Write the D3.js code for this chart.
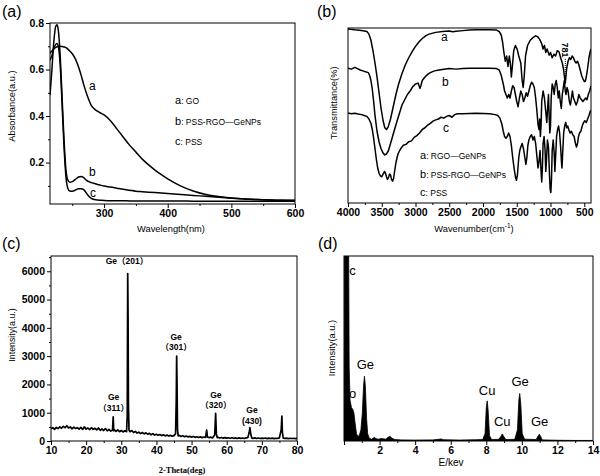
<!DOCTYPE html>
<html>
<head>
<meta charset="utf-8">
<script src="https://cdn.jsdelivr.net/npm/d3@7"></script>
<style>
  body { margin: 0; background: #fff; }
</style>
</head>
<body>
<div id="chart"></div>
<script>
// ---------- (a) UV-vis absorbance ----------
const uvWavelength = [215, 218, 221, 224, 226, 228, 231, 234, 237, 240, 243, 246, 250, 255, 260, 264, 268, 272, 276, 280, 285, 290, 295, 300, 310, 320, 330, 340, 350, 360, 370, 380, 390, 400, 420, 440, 460, 480, 500, 520, 540, 560, 580, 600];
const uvGO = [0.67, 0.68, 0.69, 0.695, 0.698, 0.699, 0.70, 0.699, 0.697, 0.694, 0.688, 0.68, 0.668, 0.645, 0.61, 0.575, 0.535, 0.50, 0.47, 0.445, 0.43, 0.42, 0.412, 0.405, 0.38, 0.345, 0.31, 0.275, 0.245, 0.215, 0.19, 0.168, 0.148, 0.13, 0.1, 0.078, 0.063, 0.054, 0.048, 0.044, 0.041, 0.039, 0.038, 0.038];
const uvPSSRGO = [0.49, 0.6, 0.72, 0.785, 0.792, 0.77, 0.66, 0.48, 0.3, 0.17, 0.125, 0.115, 0.118, 0.128, 0.138, 0.14, 0.135, 0.125, 0.118, 0.114, 0.11, 0.106, 0.102, 0.099, 0.095, 0.09, 0.085, 0.081, 0.077, 0.075, 0.073, 0.071, 0.069, 0.067, 0.063, 0.059, 0.055, 0.051, 0.047, 0.044, 0.041, 0.039, 0.038, 0.037];
const uvPSS = [0.64, 0.66, 0.69, 0.708, 0.712, 0.70, 0.62, 0.45, 0.27, 0.14, 0.09, 0.078, 0.077, 0.082, 0.088, 0.088, 0.084, 0.07, 0.055, 0.046, 0.041, 0.039, 0.038, 0.037, 0.036, 0.036, 0.036, 0.035, 0.035, 0.035, 0.035, 0.035, 0.035, 0.035, 0.035, 0.034, 0.034, 0.034, 0.034, 0.034, 0.034, 0.034, 0.034, 0.034];
const uvLegend = [["a", ": GO"], ["b", ": PSS-RGO\u2014GeNPs"], ["c", ": PSS"]];

// ---------- (b) FTIR transmittance, [wavenumber, %] ----------
const irRGO = [[4000,99.5],[3900,99],[3800,98.6],[3720,98],[3690,96.5],[3660,93],[3630,87],[3600,80],[3570,72],[3540,63],[3510,54],[3480,47],[3455,43],[3430,42],[3405,43.5],[3370,48],[3330,55],[3290,62],[3250,68],[3200,74],[3150,79],[3100,83],[3050,86.5],[3000,89.5],[2950,92],[2900,94],[2850,95.5],[2800,96.5],[2700,97.5],[2600,98],[2500,98.3],[2450,97.8],[2400,98.2],[2300,98.5],[2200,98.8],[2100,99],[2000,99],[1900,99],[1800,98.8],[1760,98],[1730,96],[1710,92],[1690,86],[1670,81],[1650,84],[1630,78],[1610,84],[1595,80],[1580,72],[1565,78],[1545,87],[1520,90],[1495,88],[1470,84],[1440,80],[1420,70],[1405,66],[1390,72],[1370,84],[1340,90],[1300,93],[1260,94.5],[1220,95.5],[1190,95],[1160,93.5],[1130,91],[1110,88],[1090,90],[1070,86],[1050,88],[1020,84.5],[1000,86],[975,83],[950,85],[925,84],[900,87],[875,86.5],[850,83],[825,80],[805,76],[790,71],[781,68.6],[772,72],[760,77],[740,81],[720,83],[700,82],[680,84],[660,83],[640,81],[620,80],[600,81],[580,79],[560,76],[540,73],[520,71],[500,69.5],[485,69.5],[470,72],[450,77],[430,83],[415,86],[400,88]];
const irPSSRGO = [[4000,77],[3950,76.5],[3900,77.5],[3860,76.8],[3820,76],[3780,75.5],[3740,75],[3700,74.5],[3680,73],[3660,70],[3640,65],[3620,58],[3600,50],[3570,41],[3540,35],[3510,31],[3480,28.5],[3455,27.5],[3430,28],[3400,30],[3370,34],[3340,38],[3310,42],[3280,46],[3240,51],[3200,56],[3160,59],[3120,62],[3080,64],[3040,66.5],[3000,68],[2960,68.5],[2935,65.5],[2920,67],[2900,70],[2860,72],[2820,73.5],[2780,74.5],[2720,75.5],[2650,76],[2580,76.4],[2500,76.8],[2400,76.5],[2300,76.9],[2200,77],[2100,77],[2000,77],[1900,77],[1800,76.8],[1760,76],[1730,73],[1700,68],[1680,64],[1660,62],[1640,60],[1620,62],[1600,60],[1580,64],[1560,67],[1540,66],[1520,62],[1500,58],[1480,55],[1460,60],[1440,64],[1420,62],[1400,58],[1380,60],[1360,63],[1340,61],[1320,64],[1300,67],[1280,69],[1260,68],[1240,66],[1220,60],[1200,52],[1185,45],[1170,42],[1160,48],[1150,38],[1140,44],[1130,58],[1110,64],[1090,60],[1070,52],[1055,46],[1040,56],[1030,62],[1020,50],[1010,40],[1000,44],[990,60],[975,68],[960,66],[945,62],[930,68],[915,70],[900,66],[885,60],[870,64],[855,58],[840,54],[825,62],[810,66],[795,70],[781,64],[770,62],[755,66],[740,64],[720,58],[705,56],[690,60],[675,64],[660,60],[640,58],[620,56],[600,58],[580,62],[560,60],[540,59],[520,58],[500,59],[480,60],[460,59],[440,62],[420,64],[400,67]];
const irPSS = [[4000,51.5],[3950,51],[3900,51.3],[3850,50.8],[3800,50.5],[3760,50],[3720,49.5],[3690,48],[3660,45.5],[3640,42],[3620,37],[3600,31],[3580,25],[3560,20],[3540,17],[3520,15.5],[3500,15],[3480,16.5],[3460,18],[3445,17],[3430,15],[3415,13.5],[3400,14.5],[3385,16.5],[3370,16],[3355,13.5],[3340,12.5],[3325,14],[3310,18],[3290,23],[3260,28],[3220,31],[3180,33],[3140,33.5],[3100,35],[3060,35.5],[3020,37.5],[2980,38.5],[2940,40],[2900,42],[2860,43],[2820,44.5],[2780,45.5],[2740,46.8],[2700,47.5],[2660,48],[2620,49],[2580,48.5],[2540,49.5],[2500,50],[2460,49],[2420,50.5],[2380,51],[2300,51],[2200,51.2],[2100,51.3],[2000,51.2],[1900,51],[1820,50.5],[1780,50],[1750,48.5],[1720,45],[1700,41],[1680,38],[1660,37],[1640,38],[1620,40],[1600,38],[1580,33],[1560,26],[1540,20],[1520,15],[1505,13],[1490,16],[1470,26],[1455,30],[1440,32],[1420,34],[1400,31],[1380,26],[1365,22],[1350,26],[1335,33],[1320,36],[1300,38],[1280,39],[1260,36],[1240,38],[1220,34],[1200,26],[1185,20],[1170,24],[1155,30],[1140,18],[1130,12],[1120,20],[1110,34],[1095,38],[1080,30],[1070,18],[1060,24],[1045,36],[1030,32],[1015,16],[1005,8],[995,6],[985,14],[975,30],[960,36],[945,28],[935,18],[925,26],[910,38],[895,42],[880,44],[865,40],[850,32],[835,22],[830,20],[820,28],[805,40],[790,44],[775,46],[760,43],[745,44],[730,42],[710,40],[690,41],[670,39],[650,38],[630,34],[615,32],[600,34],[585,38],[570,40],[550,41],[530,44],[510,46],[490,47],[470,46],[450,48],[430,50],[415,52],[400,53]];
const irLegend = [["a", ": RGO\u2014GeNPs"], ["b", ": PSS-RGO\u2014GeNPs"], ["c", ": PSS"]];

// ---------- (c) XRD, [2theta, intensity] ----------
const xrd = [[10,430],[10.5,470],[11,410],[11.5,480],[12,440],[12.5,500],[13,450],[13.5,520],[14,470],[14.5,540],[15,460],[15.5,500],[16,430],[16.5,490],[17,440],[17.5,470],[18,420],[18.5,480],[19,410],[19.5,500],[20,420],[20.5,460],[21,400],[21.5,470],[22,410],[22.5,450],[23,390],[23.5,460],[24,380],[24.5,430],[25,370],[25.5,440],[26,360],[26.5,410],[27,350],[27.5,380],[27.7,850],[27.85,360],[28,400],[28.5,340],[29,390],[29.5,330],[30,370],[30.5,320],[31,360],[31.5,330],[31.7,900],[31.83,5920],[31.93,4450],[32.03,1300],[32.2,380],[32.5,330],[33,370],[33.5,300],[34,340],[34.5,280],[35,310],[35.5,260],[36,300],[36.5,250],[37,290],[37.5,240],[38,270],[38.5,220],[39,260],[39.5,210],[40,240],[40.5,200],[41,230],[41.5,190],[42,220],[42.5,180],[43,210],[43.5,175],[44,200],[44.5,170],[45,190],[45.45,260],[45.65,1500],[45.75,3000],[45.85,2200],[46,400],[46.2,180],[46.5,200],[47,160],[47.5,185],[48,150],[48.5,175],[49,145],[49.5,165],[50,135],[50.5,160],[51,130],[51.5,150],[52,125],[52.5,145],[53,120],[53.5,140],[54,130],[54.3,390],[54.5,140],[55,120],[55.5,135],[56,110],[56.6,220],[56.85,980],[57.05,260],[57.3,120],[57.5,130],[58,105],[58.5,125],[59,100],[59.5,120],[60,100],[60.5,115],[61,95],[61.5,115],[62,95],[62.5,110],[63,90],[63.5,110],[64,95],[64.5,105],[65,90],[65.5,110],[66,120],[66.4,300],[66.6,470],[66.8,280],[67.1,110],[67.5,95],[68,110],[68.5,90],[69,105],[69.5,88],[70,100],[70.5,90],[71,105],[71.5,85],[72,100],[72.5,88],[73,102],[73.5,85],[74,98],[74.5,90],[75,110],[75.5,400],[75.7,880],[75.85,300],[76.1,100],[76.5,90],[77,100],[77.5,85],[78,98],[78.5,88],[79,96],[79.5,85],[80,95]];
// peak labels: [2theta, intensity of text baseline, line1, line2]
const xrdPeaks = [[31.6, 6250, "Ge\uff08201\uff09", ""], [45.6, 3580, "Ge", "\uff08301\uff09"], [27.8, 1440, "Ge", "\uff08311\uff09"], [56.9, 1530, "Ge", "\uff08320\uff09"], [67.2, 980, "Ge", "(430)"]];

// ---------- (d) EDS, [keV, counts %] ----------
const eds = [[0,0],[0.02,130],[0.25,130],[0.29,40],[0.34,22],[0.42,18],[0.5,17],[0.56,15],[0.62,10],[0.7,4],[0.78,2.5],[0.86,3],[0.95,6],[1.03,15],[1.1,30],[1.15,35],[1.2,30],[1.27,12],[1.33,4],[1.42,1.5],[1.55,1],[1.65,1.6],[1.72,2],[1.8,1.2],[1.95,1],[2.1,1.4],[2.2,1.2],[2.35,1],[2.5,2.2],[2.6,2.5],[2.7,1.5],[2.85,0.8],[3.2,0.6],[4,0.5],[5,0.6],[5.3,0.9],[5.45,1.1],[5.6,0.7],[6.5,0.5],[7.4,0.7],[7.8,0.8],[7.93,4],[8.0,18],[8.05,21.7],[8.1,17],[8.18,3],[8.3,0.8],[8.7,0.9],[8.82,2.5],[8.9,3.8],[8.98,2.5],[9.1,0.8],[9.6,0.9],[9.75,6],[9.83,22],[9.88,25.7],[9.94,20],[10.02,4],[10.15,1],[10.8,0.8],[10.92,2.8],[10.98,3.6],[11.05,2.6],[11.15,0.6],[12,0.4],[13,0.3],[14,0.3]];
// element labels: [keV, counts, label]
const edsPeaks = [[0.3, 90, "c"], [1.2, 39, "Ge"], [0.28, 23, "o"], [8.05, 25, "Cu"], [8.9, 8, "Cu"], [9.9, 29.5, "Ge"], [11.0, 8, "Ge"]];

const W = 600, H = 476;
const FONT = "'Liberation Sans', Arial, 'Noto Sans CJK SC', sans-serif";

const svg = d3.select("#chart").append("svg")
  .attr("width", W).attr("height", H)
  .style("font-family", FONT);
svg.append("rect").attr("width", W).attr("height", H).attr("fill", "#fff");

//draws frame, ticks and clip for one panel
function makePanel(id, box, x, y, opt) {
  const g = svg.append("g");
  g.append("clipPath").attr("id", id).append("rect")
    .attr("x", box.l).attr("y", box.t).attr("width", box.r - box.l).attr("height", box.b - box.t);

  const styleTicks = (a) => {
    a.select(".domain").remove();
    a.attr("font-family", FONT).attr("font-size", 10.5).attr("font-weight", "bold");
    a.selectAll("line").attr("stroke", "#000");
    a.selectAll("text").attr("fill", "#000");
  };
  g.append("g").attr("transform", `translate(0,${box.b})`)
    .call(d3.axisBottom(x).tickValues(opt.xMajor).tickSize(4).tickPadding(2).tickFormat(opt.xFmt))
    .call(styleTicks);
  g.append("g").attr("transform", `translate(0,${box.b})`)
    .call(d3.axisBottom(x).tickValues(opt.xMinor).tickSize(2).tickFormat(""))
    .call(styleTicks);
  if (opt.yMajor) {
    g.append("g").attr("transform", `translate(${box.l},0)`)
      .call(d3.axisLeft(y).tickValues(opt.yMajor).tickSize(4).tickPadding(2).tickFormat(opt.yFmt))
      .call(styleTicks);
    g.append("g").attr("transform", `translate(${box.l},0)`)
      .call(d3.axisLeft(y).tickValues(opt.yMinor).tickSize(2).tickFormat(""))
      .call(styleTicks);
  }
  const plot = g.append("g").attr("clip-path", `url(#${id})`);
  g.append("rect")
    .attr("x", box.l).attr("y", box.t).attr("width", box.r - box.l).attr("height", box.b - box.t)
    .attr("fill", "none").attr("stroke", "#000").attr("stroke-width", 1);
  return { g, plot };
}

function label(g, x, y, txt, size, extra) {
  const t = g.append("text").attr("x", x).attr("y", y).attr("font-size", size).text(txt);
  if (extra) extra(t);
  return t;
}

// panel letters
label(svg, 2, 17, "(a)", 16);
label(svg, 317, 17, "(b)", 16);
label(svg, 2, 249, "(c)", 16);
label(svg, 318, 249, "(d)", 16);

// ---------- panel a ----------
{
  const box = { l: 50, r: 295, t: 23, b: 204 };
  const x = d3.scaleLinear().domain([215, 600]).range([box.l, box.r]);
  const y = d3.scaleLinear().domain([0.022, 0.8]).range([box.b, box.t]);
  const p = makePanel("clipA", box, x, y, {
    xMajor: [300, 400, 500, 600], xMinor: [250, 350, 450, 550], xFmt: d3.format("d"),
    yMajor: [0.2, 0.4, 0.6, 0.8], yMinor: [0.1, 0.3, 0.5, 0.7], yFmt: d3.format(".1f")
  });
  const line = d3.line().x((d, i) => x(uvWavelength[i])).y(d => y(d)).curve(d3.curveMonotoneX);
  [uvGO, uvPSSRGO, uvPSS].forEach(s => {
    p.plot.append("path").attr("d", line(s)).attr("fill", "none").attr("stroke", "#000").attr("stroke-width", 1.5);
  });
  label(p.g, 89, 90, "a", 12);
  label(p.g, 89, 176, "b", 12);
  label(p.g, 90, 197, "c", 12);
  uvLegend.forEach((d, i) => {
    const t = p.g.append("text").attr("x", 175).attr("y", 104 + i * 20.5);
    t.append("tspan").attr("font-size", 11).text(d[0]);
    t.append("tspan").attr("font-size", 8.5).text(d[1]);
  });
  label(p.g, 12, 106, "Absorbance(a.u.)", 9.3, t => t.attr("text-anchor", "middle").attr("transform", "rotate(-90,12,106)").attr("dy", "0.35em"));
  label(p.g, 171, 232, "Wavelength(nm)", 9.3, t => t.attr("text-anchor", "middle"));
}

// ---------- panel b ----------
{
  const box = { l: 348, r: 591, t: 28, b: 203 };
  const x = d3.scaleLinear().domain([4000, 400]).range([box.l, box.r]);
  const y = d3.scaleLinear().domain([0, 100]).range([box.b, box.t]);
  const p = makePanel("clipB", box, x, y, {
    xMajor: [4000, 3500, 3000, 2500, 2000, 1500, 1000, 500],
    xMinor: [3750, 3250, 2750, 2250, 1750, 1250, 750], xFmt: d3.format("d")
  });
  const line = d3.line().x(d => x(d[0])).y(d => y(d[1]));
  [irRGO, irPSSRGO, irPSS].forEach(s => {
    p.plot.append("path").attr("d", line(s)).attr("fill", "none").attr("stroke", "#000")
      .attr("stroke-width", 1.5).attr("stroke-linejoin", "round");
  });
  label(p.g, 441, 41, "a", 12);
  label(p.g, 442, 86, "b", 12);
  label(p.g, 443, 132, "c", 12);
  irLegend.forEach((d, i) => {
    const t = p.g.append("text").attr("x", 420).attr("y", 159 + i * 18.5);
    t.append("tspan").attr("font-size", 11).text(d[0]);
    t.append("tspan").attr("font-size", 8.5).text(d[1]);
  });
  // 781 marker
  p.g.append("line").attr("x1", x(781)).attr("x2", x(781)).attr("y1", 59).attr("y2", y(68.6))
    .attr("stroke", "#000").attr("stroke-width", 1).attr("stroke-dasharray", "1,1");
  label(p.g, x(781), 50, "781", 9, t => t.attr("text-anchor", "middle").attr("dy", "0.35em")
    .attr("font-weight", "bold").attr("transform", `rotate(90,${x(781)},50)`));
  label(p.g, 334, 103, "Transmittance(%)", 9.3, t => t.attr("text-anchor", "middle").attr("transform", "rotate(-90,334,103)").attr("dy", "0.35em"));
  const xt = label(p.g, 474, 232, "Wavenumber(cm", 9.3, t => t.attr("text-anchor", "middle"));
  xt.append("tspan").attr("font-size", 6.5).attr("dy", -4).text("-1");
  xt.append("tspan").attr("dy", 4).text(")");
}

// ---------- panel c ----------
{
  const box = { l: 51, r: 297, t: 256, b: 441 };
  const x = d3.scaleLinear().domain([10, 80]).range([box.l, box.r]);
  const y = d3.scaleLinear().domain([0, 6540]).range([box.b, box.t]);
  const p = makePanel("clipC", box, x, y, {
    xMajor: [10, 20, 30, 40, 50, 60, 70, 80], xMinor: [15, 25, 35, 45, 55, 65, 75], xFmt: d3.format("d"),
    yMajor: [0, 1000, 2000, 3000, 4000, 5000, 6000], yMinor: [500, 1500, 2500, 3500, 4500, 5500, 6500], yFmt: d3.format("d")
  });
  const line = d3.line().x(d => x(d[0])).y(d => y(d[1]));
  p.plot.append("path").attr("d", line(xrd)).attr("fill", "none").attr("stroke", "#000")
    .attr("stroke-width", 1.7).attr("stroke-linejoin", "round");
  xrdPeaks.forEach(d => {
    const t = p.g.append("text").attr("x", x(d[0])).attr("y", y(d[1]))
      .attr("text-anchor", "middle").attr("font-size", 8.5).attr("font-weight", "bold");
    t.append("tspan").text(d[2]);
    if (d[3]) t.append("tspan").attr("x", x(d[0])).attr("dy", 10.5).text(d[3]);
  });
  label(p.g, 12, 335, "Intensity(a.u.)", 8.8, t => t.attr("text-anchor", "middle").attr("transform", "rotate(-90,12,335)").attr("dy", "0.35em"));
  label(p.g, 182, 473, "2-Theta(deg)", 8.5, t => t.attr("text-anchor", "middle")
    .attr("font-family", "'Liberation Serif', 'Times New Roman', serif").attr("font-weight", "bold"));
}

// ---------- panel d ----------
{
  const box = { l: 344, r: 593, t: 256, b: 441 };
  const x = d3.scaleLinear().domain([0, 14]).range([box.l, box.r]);
  const y = d3.scaleLinear().domain([0, 100]).range([box.b, box.t]);
  const p = makePanel("clipD", box, x, y, {
    xMajor: [0, 2, 4, 6, 8, 10, 12, 14], xMinor: [1, 3, 5, 7, 9, 11, 13],
    xFmt: d => (d === 0 ? "" : d)
  });
  const area = d3.area().x(d => x(d[0])).y0(y(0)).y1(d => y(d[1]));
  p.plot.append("path").attr("d", area(eds)).attr("fill", "#000")
    .attr("stroke", "#000").attr("stroke-width", 0.8);
  edsPeaks.forEach(d => {
    label(p.g, x(d[0]), y(d[1]), d[2], 13, t => t.attr("text-anchor", d[2] === "c" || d[2] === "o" ? "start" : "middle"));
  });
  label(p.g, 332, 348, "Intensity(a.u.)", 9.3, t => t.attr("text-anchor", "middle").attr("transform", "rotate(-90,332,348)").attr("dy", "0.35em"));
  label(p.g, 451, 466, "E/kev", 10, t => t.attr("text-anchor", "middle"));
}
</script>
</body>
</html>
